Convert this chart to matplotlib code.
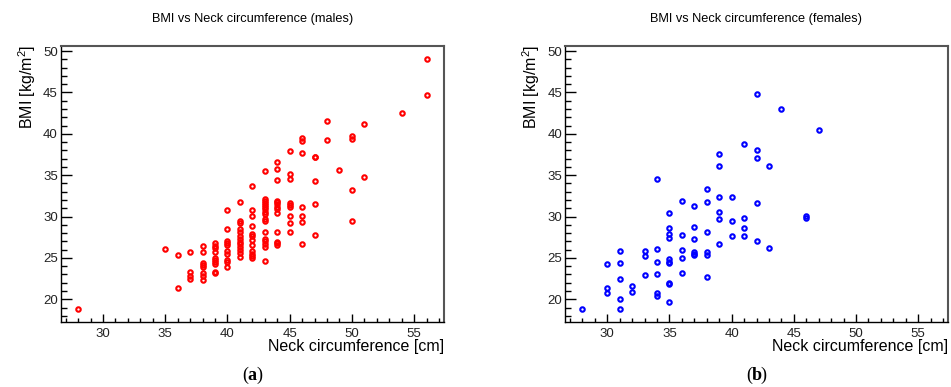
import numpy as np
import matplotlib
matplotlib.use('Agg')
import matplotlib.pyplot as plt
from matplotlib.ticker import MultipleLocator

plt.rcParams['font.family'] = ['Liberation Sans', 'DejaVu Sans']

# males: neck circumference [cm] and BMI [kg/m2]
male_neck = [28,
             35,
             36, 36,
             37, 37, 37, 37,
             38, 38, 38, 38, 38, 38, 38, 38,
             39, 39, 39, 39, 39, 39, 39, 39, 39, 39,
             40, 40, 40, 40, 40, 40, 40, 40, 40, 40,
             41, 41, 41, 41, 41, 41, 41, 41, 41, 41, 41, 41, 41,
             42, 42, 42, 42, 42, 42, 42, 42, 42, 42, 42, 42,
             43, 43, 43, 43, 43, 43, 43, 43, 43, 43, 43, 43, 43, 43, 43, 43, 43,
             44, 44, 44, 44, 44, 44, 44, 44, 44, 44, 44, 44, 44,
             45, 45, 45, 45, 45, 45, 45, 45, 45,
             46, 46, 46, 46, 46, 46, 46,
             47, 47, 47, 47, 47,
             48, 48,
             49,
             50, 50, 50, 50,
             51, 51,
             54,
             56, 56]
male_bmi = [18.8,
            26.1,
            25.3, 21.4,
            25.7, 23.3, 22.85, 22.45,
            26.4, 25.7, 24.35, 24.15, 23.95, 23.2, 22.8, 22.35,
            26.8, 26.4, 26.15, 25.7, 25.0, 24.75, 24.5, 24.25, 23.35, 23.15,
            30.8, 28.45, 27.1, 26.85, 26.6, 25.8, 25.5, 24.75, 24.5, 23.9,
            31.7, 29.4, 29.2, 28.45, 28.1, 27.65, 27.25, 26.95, 26.7, 25.95, 25.65, 25.1, 26.3,
            33.65, 30.8, 30.1, 28.8, 27.85, 27.6, 27.2, 26.6, 25.8, 25.5, 25.2, 24.95,
            35.45, 32.1, 31.9, 31.65, 31.4, 31.15, 30.85, 30.55, 30.25, 29.7, 29.4, 28.1, 27.25, 27.0, 26.7, 26.3, 24.65,
            36.6, 35.75, 34.4, 31.9, 31.7, 31.5, 31.2, 30.9, 30.4, 28.1, 26.95, 26.75, 26.55,
            37.9, 35.2, 34.5, 31.6, 31.4, 31.2, 30.1, 29.25, 28.1,
            39.55, 39.1, 37.65, 31.1, 30.05, 29.35, 26.7,
            37.25, 37.15, 34.3, 31.55, 27.8,
            41.55, 39.2,
            35.65,
            39.7, 39.35, 33.2, 29.4,
            41.15, 34.75,
            42.5,
            49.1, 44.75]

# females
female_neck = [28,
               30, 30, 30,
               31, 31, 31, 31, 31,
               32, 32,
               33, 33, 33,
               34, 34, 34, 34, 34, 34,
               35, 35, 35, 35, 35, 35, 35, 35, 35, 35,
               36, 36, 36, 36, 36,
               37, 37, 37, 37, 37, 37,
               38, 38, 38, 38, 38, 38,
               39, 39, 39, 39, 39, 39,
               40, 40, 40,
               41, 41, 41, 41,
               42, 42, 42, 42, 42,
               43, 43,
               44,
               46, 46,
               47]
female_bmi = [18.8,
              24.25, 21.35, 20.8,
              25.85, 24.4, 22.45, 20.0, 18.8,
              21.65, 20.85,
              25.85, 25.2, 22.9,
              34.5, 26.05, 24.45, 23.05, 20.7, 20.45,
              30.4, 28.6, 27.9, 27.35, 24.85, 24.55, 24.4, 22.0, 21.9, 19.65,
              31.9, 27.8, 25.95, 24.95, 23.2,
              31.25, 28.75, 27.3, 25.7, 25.5, 25.4,
              33.3, 31.7, 28.1, 25.7, 25.3, 22.7,
              37.55, 36.1, 32.3, 30.55, 29.7, 26.7,
              32.3, 29.45, 27.7,
              38.75, 29.8, 28.65, 27.7,
              44.85, 38.05, 37.05, 31.65, 27.1,
              36.1, 26.25,
              42.95,
              30.05, 29.85,
              40.4]

panels = [
    (male_neck, male_bmi, 'red', 'BMI vs Neck circumference (males)', 'a'),
    (female_neck, female_bmi, 'blue', 'BMI vs Neck circumference (females)', 'b'),
]

W, H = 951, 387
fig = plt.figure(figsize=(W / 100, H / 100), dpi=100)

lefts = [60.7, 565]
rights = [444, 948]
top, bottom = 45.7, 322

for i, (xs, ys, col, title, sub) in enumerate(panels):
    l, r = lefts[i], rights[i]
    ax = fig.add_axes([l / W, 1 - bottom / H, (r - l) / W, (bottom - top) / H])
    ax.plot(xs, ys, 'o', ls='none', mfc='none', mec=col, ms=3.2, mew=1.5)
    ax.set_xlim(26.6, 57.4)
    ax.set_ylim(17.25, 50.65)

    ax.xaxis.set_major_locator(MultipleLocator(5))
    ax.xaxis.set_minor_locator(MultipleLocator(1))
    ax.yaxis.set_major_locator(MultipleLocator(5))
    ax.yaxis.set_minor_locator(MultipleLocator(1))
    ax.tick_params(axis='both', which='both', direction='in', top=False, right=False,
                   labelsize=9.5, labelcolor='#222222')
    ax.tick_params(axis='y', which='major', length=8, width=1, pad=2)
    ax.tick_params(axis='y', which='minor', length=4, width=1)
    ax.tick_params(axis='x', which='major', length=6, width=1, pad=4)
    ax.tick_params(axis='x', which='minor', length=3, width=1)

    for s in ['left', 'bottom']:
        ax.spines[s].set_color('black')
        ax.spines[s].set_linewidth(1.0)
    for s in ['top', 'right']:
        ax.spines[s].set_color('#555555')
        ax.spines[s].set_linewidth(1.5)

    cx = (l + r) / 2
    fig.text(cx / W, 1 - 19 / H, title, ha='center', va='center', fontsize=9.2)
    fig.text(r / W, 1 - 347 / H, 'Neck circumference [cm]', ha='right', va='center',
             fontsize=11.5)
    fig.text((l - 34) / W, 1 - 45 / H, r'BMI [kg/m$^\mathregular{2}$]', rotation=90,
             ha='center', va='top', fontsize=11.5)
    # subcaption: plain parentheses, bold letter
    fig.text(cx / W - 0.0045, 1 - 375 / H, '(', ha='right', va='center', fontsize=13,
             family='Liberation Serif')
    fig.text(cx / W, 1 - 375 / H, sub, ha='center', va='center', fontsize=13,
             family='Liberation Serif', fontweight='bold')
    fig.text(cx / W + 0.0045, 1 - 375 / H, ')', ha='left', va='center', fontsize=13,
             family='Liberation Serif')

fig.savefig('out.png', dpi=100)
